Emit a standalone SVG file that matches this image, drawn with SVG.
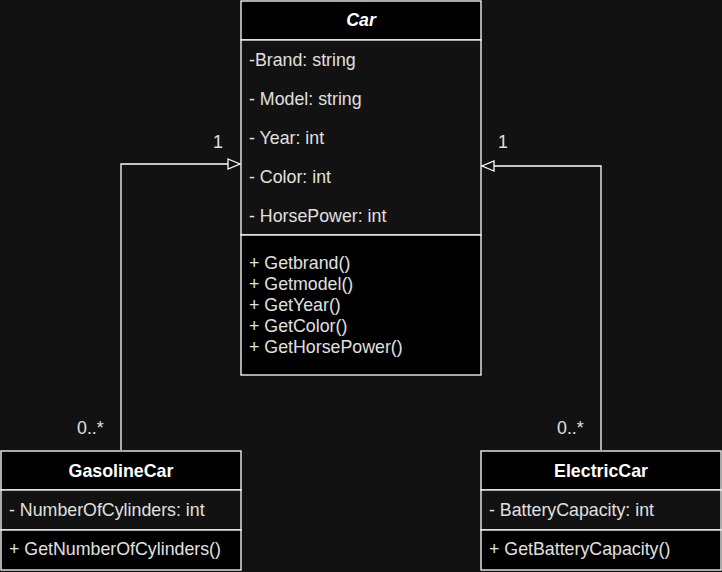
<svg xmlns="http://www.w3.org/2000/svg" width="722" height="572" viewBox="0 0 722 572">
<style>
.t{font-family:"Liberation Sans",Arial,sans-serif;font-size:17.8px;fill:#e0e0e0}
.h{font-family:"Liberation Sans",Arial,sans-serif;font-size:17.8px;font-weight:bold;fill:#ffffff;text-anchor:middle}
.box{stroke:#ffffff;stroke-width:1.3}
.ln{fill:none;stroke:#ffffff;stroke-width:1.3}
</style>
<defs>
<marker id="tri" markerWidth="14" markerHeight="12" refX="13" refY="6" orient="auto" markerUnits="userSpaceOnUse">
<path d="M1,1 L13,6 L1,11 Z" fill="#121212" stroke="#ffffff" stroke-width="1.3"/>
</marker>
</defs>
<rect width="722" height="572" fill="#121212"/>
<g id="connectors">
<polyline class="ln" points="121,450 121,164 240,164" marker-end="url(#tri)"/>
<polyline class="ln" points="601,450 601,166 482,166" marker-end="url(#tri)"/>
<text class="t" x="213" y="148">1</text>
<text class="t" x="498" y="148">1</text>
<text class="t" x="77" y="434">0..*</text>
<text class="t" x="557" y="434">0..*</text>
</g>
<g id="Car">
<rect class="box" x="241" y="1" width="240" height="39" fill="#000000"/>
<rect class="box" x="241" y="40" width="240" height="195" fill="#121212"/>
<rect class="box" x="241" y="235" width="240" height="140" fill="#000000"/>
<text class="h" x="361" y="26" font-style="italic">Car</text>
<text class="t" x="249" y="66">-Brand: string</text>
<text class="t" x="249" y="105">- Model: string</text>
<text class="t" x="249" y="144">- Year: int</text>
<text class="t" x="249" y="183">- Color: int</text>
<text class="t" x="249" y="222">- HorsePower: int</text>
<text class="t" x="249" y="269">+ Getbrand()</text>
<text class="t" x="249" y="290">+ Getmodel()</text>
<text class="t" x="249" y="311">+ GetYear()</text>
<text class="t" x="249" y="332">+ GetColor()</text>
<text class="t" x="249" y="353">+ GetHorsePower()</text>
</g>
<g id="GasolineCar">
<rect class="box" x="1" y="451" width="240" height="39" fill="#000000"/>
<rect class="box" x="1" y="490" width="240" height="40" fill="#121212"/>
<rect class="box" x="1" y="530" width="240" height="40" fill="#000000"/>
<text class="h" x="121" y="477">GasolineCar</text>
<text class="t" x="9" y="516">- NumberOfCylinders: int</text>
<text class="t" x="9" y="555">+ GetNumberOfCylinders()</text>
</g>
<g id="ElectricCar">
<rect class="box" x="481" y="451" width="240" height="39" fill="#000000"/>
<rect class="box" x="481" y="490" width="240" height="40" fill="#121212"/>
<rect class="box" x="481" y="530" width="240" height="40" fill="#000000"/>
<text class="h" x="601" y="477">ElectricCar</text>
<text class="t" x="489" y="516">- BatteryCapacity: int</text>
<text class="t" x="489" y="555">+ GetBatteryCapacity()</text>
</g>
</svg>
